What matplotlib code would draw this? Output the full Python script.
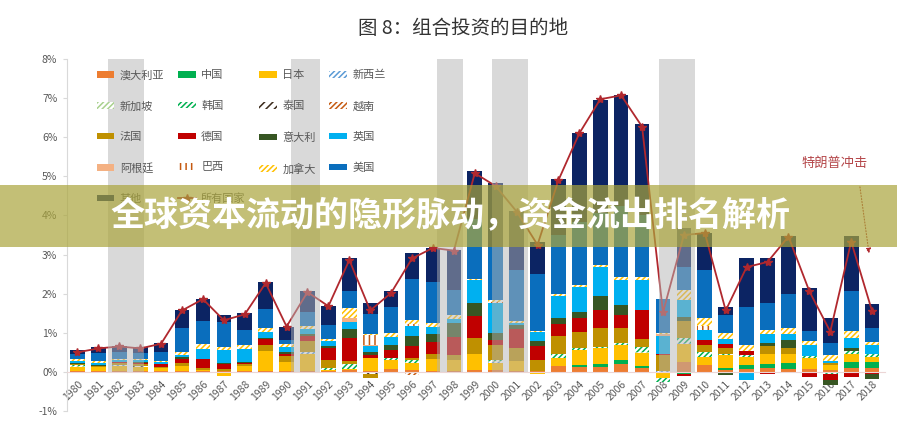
import matplotlib.pyplot as plt
import numpy as np
from matplotlib.patches import Patch, Rectangle
from matplotlib.lines import Line2D

plt.rcParams['font.family'] = ['Noto Sans CJK SC', 'DejaVu Sans']
plt.rcParams['hatch.linewidth'] = 1.1

# 数据 ----------
years = list(range(1980, 2019))

australia = [.01, .01, .01, .01, .01, .02, .02, .01, .02, .02,
             .01, .02, .01, .04, .02, .07, .05, .03, .02, .06,
             .04, .02, .01, .15, .13, .13, .19, .09, 0, .26,
             .17, .06, .07, .09, .08, .08, .05, .09, .09]
china = [0] * 24 + [.04, .07, .11, .06, 0, -.05,
                    0, .04, .10, .10, .15, 0, 0, .17, .17]
japan = [.12, .12, .15, .12, .08, .13, .03, -.10, .12, .52,
         .24, .45, .03, .03, .33, .23, .19, .31, .28, .41,
         .20, .26, -.06, .20, .39, .40, .39, .33, -.15, .45,
         .21, .34, .21, .26, .23, .27, .12, .21, .13]
new_zealand = [0, 0, .02, 0, 0, 0, 0, 0, 0, 0,
               0, .03, 0, 0, 0, 0, 0, 0, 0, 0,
               .02, 0, 0, 0, 0, 0, 0, 0, .03, .03,
               0, 0, 0, 0, 0, 0, 0, 0, 0]
singapore = [.02, 0, 0, 0, 0, 0, 0, 0, 0, 0,
             0, 0, 0, 0, 0, 0, 0, 0, 0, 0,
             .02, 0, 0, 0, 0, 0, 0, .02, 0, 0,
             0, 0, 0, .02, 0, 0, 0, 0, 0]
korea = [.03, 0, 0, 0, 0, 0, 0, 0, 0, 0,
         0, 0, .05, .13, 0, .06, .07, 0, 0, 0,
         .03, 0, 0, .10, .06, .04, .04, .13, -.10, .12,
         .13, .03, .06, 0, 0, .05, -.06, .06, .08]
thailand = [0, 0, 0, .02, 0, 0, 0, 0, 0, 0,
            0, 0, 0, 0, -.05, 0, 0, 0, 0, 0,
            0, 0, 0, 0, 0, 0, 0, 0, 0, 0,
            0, 0, 0, 0, 0, 0, 0, 0, 0]
vietnam = [0, 0, 0, 0, 0, 0, 0, 0, 0, 0,
           0, 0, 0, 0, 0, 0, -.07, 0, 0, 0,
           0, 0, 0, 0, 0, 0, 0, 0, 0, 0,
           0, 0, 0, 0, 0, 0, 0, 0, 0]
france = [.02, .02, .05, .05, .03, .08, .04, .06, .06, .15,
          .15, .28, .21, .09, -.10, 0, .04, .13, .13, .39,
          .38, .34, .30, .47, .41, .47, .39, .21, .39, .45,
          .17, .13, 0, .20, .15, 0, .06, 0, 0]
germany = [.01, .01, .02, .03, .07, .11, .23, .14, .03, .14,
           .07, .15, .30, .58, .08, .20, .30, .30, .47, .56,
           .13, .47, .34, .30, .34, .47, .34, .75, .04, -.05,
           .13, .11, .09, -.06, 0, -.12, -.16, -.12, -.06]
italy = [.03, .02, 0, .02, .02, .05, .02, .02, .02, .04,
         .05, .05, .07, .23, .07, .13, .26, .21, .34, .34,
         .17, .10, .13, .17, .15, .36, .26, 0, 0, .09,
         0, -.07, 0, .06, .20, 0, -.12, .07, -.12]
uk = [.05, .06, .06, .05, .05, .05, .25, .32, .34, .15,
      .12, .12, .12, .17, .15, .21, .26, .17, .12, .58,
      .77, .05, .23, .56, .64, .75, .64, .75, .47, .43,
      .26, .12, -.20, .24, .15, .30, .06, .27, .23]
argentina = [0, 0, 0, 0, 0, 0, 0, 0, 0, 0,
             0, 0, 0, .11, .03, 0, 0, 0, 0, 0,
             0, 0, 0, 0, 0, 0, 0, 0, .03, 0,
             0, 0, 0, 0, 0, 0, 0, 0, 0]
brazil = [0, 0, 0, 0, 0, 0, 0, 0, 0, 0,
          0, 0, 0, 0, .26, 0, .05, 0, 0, 0,
          .03, 0, 0, 0, 0, 0, 0, 0, 0, 0,
          .11, 0, 0, 0, 0, 0, 0, 0, 0]
canada = [.04, .05, .03, .03, .03, .06, .13, .09, .10, .11,
          .07, .08, .05, .26, .04, .09, .11, .09, .10, .04,
          .04, .07, .04, .04, .07, .04, .07, .08, .04, .26,
          .19, .17, .15, .10, .17, .08, .14, .17, .07]
usa = [.12, .20, .16, .16, .23, .62, .58, .64, .38, .47,
       .10, .35, .35, .43, .51, .67, 1.05, 1.07, .63, 1.52,
       1.37, 1.30, 1.44, 1.50, 1.60, 1.33, 1.82, 1.60, .86, .60,
       1.24, .45, .99, .69, .86, .26, .32, 1.03, .36]
others = [.10, .14, .15, .15, .22, .46, .56, .17, .44, .69,
          .35, .55, .50, .84, .26, .40, .66, .87, 1.03, 1.24,
          1.62, 1.50, .82, 1.43, 2.27, 2.90, 2.83, 2.33, 0, 1.00,
          .94, .20, 1.24, 1.14, 1.48, 1.11, .64, 1.40, .61]
all_countries = [.50, .60, .65, .60, .72, 1.57, 1.86, 1.32, 1.47, 2.27,
                 1.16, 2.04, 1.68, 2.86, 1.57, 2.02, 2.90, 3.17, 3.10, 5.08,
                 4.75, 4.10, 3.25, 4.90, 6.10, 6.97, 7.07, 6.27, 1.52, 3.50,
                 3.55, 1.57, 2.68, 2.81, 3.46, 2.06, 1.03, 3.33, 1.55]

# 阴影区间
band_start = [1981.46, 1990.2, 1997.2, 1999.8, 2007.8]
band_end = [1983.18, 1991.6, 1998.45, 2001.55, 2009.55]

series = [
    ("澳大利亚", australia, "#ED7D31", None),
    ("中国", china, "#00B050", None),
    ("日本", japan, "#FFC000", None),
    ("新西兰", new_zealand, "#5B9BD5", "//////"),
    ("新加坡", singapore, "#A9D18E", "//////"),
    ("韩国", korea, "#00B050", "//////"),
    ("泰国", thailand, "#3B2A1A", "////"),
    ("越南", vietnam, "#C55A11", "//////"),
    ("法国", france, "#BF9000", None),
    ("德国", germany, "#C00000", None),
    ("意大利", italy, "#375623", None),
    ("英国", uk, "#00B0F0", None),
    ("阿根廷", argentina, "#F4B183", None),
    ("巴西", brazil, "#C55A11", "|||"),
    ("加拿大", canada, "#FFC000", "//////"),
    ("美国", usa, "#0A6EBD", None),
    ("其他", others, "#0C2463", None),
]
line_color = "#B0282E"

# 描画 ----------
fig = plt.figure(figsize=(8.97, 4.33), dpi=100)
ax = fig.add_axes([0.0747, 0.0508, 0.912, 0.813])

# 先に軸の位置を決める（後で決めると目盛り設定が消える）
for side in ["top", "right"]:
    ax.spines[side].set_visible(False)
ax.spines["left"].set_color("#d9d9d9")
ax.spines["bottom"].set_position(("data", 0))
ax.spines["bottom"].set_color("#ecd6d6")

x = np.array(years)
pos_bottom = np.zeros(len(years))
neg_bottom = np.zeros(len(years))
handles = []
for name, vals, color, hatch in series:
    v = np.array(vals, dtype=float)
    bottom = np.where(v >= 0, pos_bottom, neg_bottom)
    if hatch:
        ax.bar(x, v, 0.7, bottom=bottom, facecolor="white", edgecolor=color,
               hatch=hatch, linewidth=0, zorder=2)
        handles.append(Patch(facecolor="white", edgecolor=color, hatch=hatch,
                             linewidth=0, label=name))
    else:
        ax.bar(x, v, 0.7, bottom=bottom, color=color, linewidth=0, zorder=2)
        handles.append(Patch(facecolor=color, linewidth=0, label=name))
    pos_bottom += np.clip(v, 0, None)
    neg_bottom += np.clip(v, None, 0)

ax.plot(x, all_countries, color=line_color, lw=1.3, marker="*",
        markersize=6, zorder=3)
handles.append(Line2D([0], [0], color=line_color, lw=1.3, marker="*",
                      markersize=6, label="所有国家"))

for s, e in zip(band_start, band_end):
    ax.axvspan(s, e, ymin=1 / 9, ymax=1, color="#b4b4b4", alpha=0.5,
               lw=0, zorder=4)

# 坐标轴
ax.set_xlim(1979.5, 2018.62)
ax.set_ylim(-1, 8)
ax.set_yticks(range(-1, 9))
ax.set_yticklabels([f"{t}%" for t in range(-1, 9)])
ax.set_xticks(years)
ax.set_xticklabels([str(y) for y in years])
for lab in ax.get_xticklabels():
    lab.set_rotation(45)
    lab.set_ha("right")
    lab.set_rotation_mode("anchor")
ax.tick_params(axis="x", length=0, labelsize=7.5, labelcolor="#595959", pad=5)
ax.tick_params(axis="y", length=3, color="#d9d9d9", labelsize=7.5,
               labelcolor="#595959", pad=4)

# 凡例（行方向に並べる）
order = [h for i in range(4) for h in handles[i::4]]
leg = ax.legend(handles=order, ncol=4, loc="upper left",
                bbox_to_anchor=(0.024, 0.997), frameon=False, fontsize=8,
                handlelength=1.6, handleheight=0.5, handletextpad=0.5,
                labelspacing=1.85, columnspacing=1.2, labelcolor="#595959")
leg.set_zorder(6)

# 注釈
ax.annotate("", xy=(2017.87, 2.96), xytext=(2017.4, 4.8),
            arrowprops=dict(arrowstyle="-|>", linestyle=":", color=line_color,
                            lw=0.8, mutation_scale=7), zorder=6)
ax.text(2016.2, 5.32, "特朗普冲击", color="#B5484B", fontsize=9.5,
        ha="center", va="center", zorder=6)

# タイトル
fig.text(0.516, 0.935, "图 8：组合投资的目的地", fontsize=14, color="#333333",
         ha="center", va="center")

# 横幅
fig.patches.append(Rectangle((0, 0.43), 1, 0.143, transform=fig.transFigure,
                             facecolor="#aaa53c", alpha=0.7, lw=0, zorder=10))
fig.text(0.502, 0.501, "全球资本流动的隐形脉动，资金流出排名解析", fontsize=24.5,
         fontweight="bold", color="white", ha="center", va="center", zorder=11)

fig.savefig("out.png", dpi=100)
